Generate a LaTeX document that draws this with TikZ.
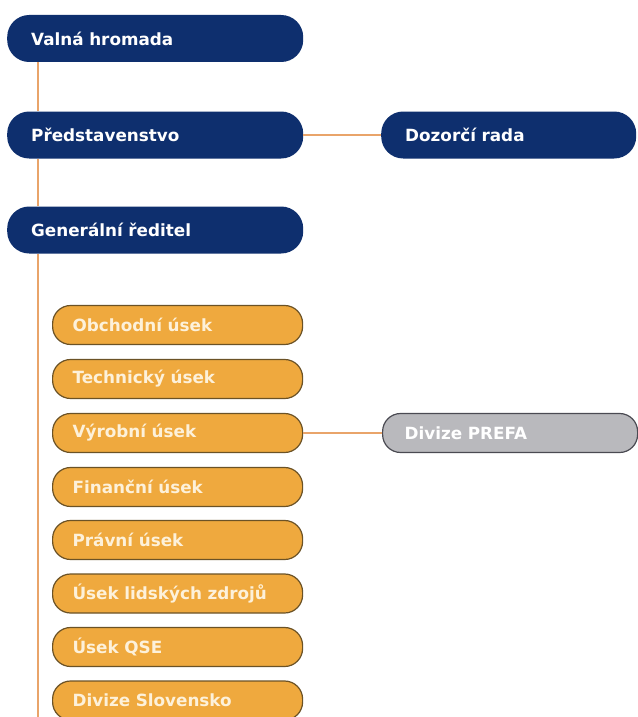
\documentclass[tikz,border=0pt]{standalone}
\usepackage{fontspec}
\setmainfont{DejaVu Sans}
\usetikzlibrary{positioning}
\definecolor{boardNavy}{HTML}{0E2F6E}
\definecolor{deptOrange}{HTML}{EFA93E}
\definecolor{deptEdge}{HTML}{6B5226}
\definecolor{deptText}{HTML}{FDF1DA}
\definecolor{prefaGray}{HTML}{B9B9BD}
\definecolor{prefaEdge}{HTML}{4A4A52}
\definecolor{linkOrange}{HTML}{E9A46A}
\tikzset{
  label font/.style={font=\bfseries\fontsize{16.8}{18}\selectfont},
  board/.style={rectangle, rounded corners=22pt, fill=boardNavy, text=white, label font,
    minimum height=47pt, inner ysep=0pt, inner xsep=24pt, text width=248pt, align=left, anchor=west},
  dept/.style={rectangle, rounded corners=18pt, fill=deptOrange, draw=deptEdge, line width=1.2pt,
    text=deptText, label font, minimum height=39pt, inner ysep=0pt, inner xsep=20pt,
    text width=210pt, align=left, anchor=west},
  division/.style={dept, fill=prefaGray, draw=prefaEdge, text=white, inner xsep=22pt, text width=211pt},
  link/.style={draw=linkOrange, line width=1.8pt}
}
\begin{document}
\begin{tikzpicture}[x=1pt, y=-1pt]
	\useasboundingbox[fill=white] (0,0) rectangle (637,717);

	\coordinate (trunk) at (38,717);

	% management
	\node[board] (valna) at (7,38.5) {Valná hromada};
	\node[board] (predstavenstvo) at (7,135) {Představenstvo};
	\node[board, text width=207pt] (dozorci) at (381,135) {Dozorčí rada};
	\node[board] (reditel) at (7,230) {Generální ředitel};

	% departments
	\node[dept] (obchodni) at (52,325) {Obchodní úsek};
	\node[dept] (technicky) at (52,379) {Technický úsek};
	\node[dept] (vyrobni) at (52,433) {Výrobní úsek};
	\node[dept] (financni) at (52,487) {Finanční úsek};
	\node[dept] (pravni) at (52,540) {Právní úsek};
	\node[dept] (lidske) at (52,593.5) {Úsek lidských zdrojů};
	\node[dept] (qse) at (52,647) {Úsek QSE};
	\node[dept] (slovensko) at (52,700.5) {Divize Slovensko};

	\node[division] (prefa) at (382,433) {Divize PREFA};

	% connectors
	\draw[link] (valna.south -| trunk) -- (predstavenstvo.north -| trunk);
	\draw[link] (predstavenstvo.south -| trunk) -- (reditel.north -| trunk);
	\draw[link] (reditel.south -| trunk) -- (trunk);
	\draw[link] (predstavenstvo) -- (dozorci);
	\draw[link] (vyrobni) -- (prefa);

\end{tikzpicture}
\end{document}
